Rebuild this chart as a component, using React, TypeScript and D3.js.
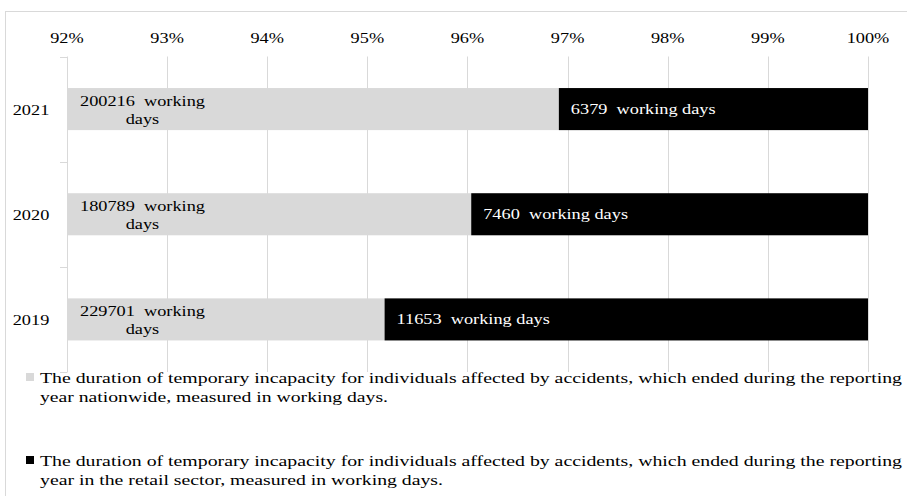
import React, { useEffect, useRef } from "react";
import * as d3 from "d3";

const years = ["2021", "2020", "2019"];
const nationwideDays = [200216, 180789, 229701];
const retailDays = [6379, 7460, 11653];
const tickValues = [0.92, 0.93, 0.94, 0.95, 0.96, 0.97, 0.98, 0.99, 1.0];
const legendLines = [
  [
    "The duration of temporary incapacity for individuals affected by accidents, which ended during the reporting",
    "year nationwide, measured in working days.",
  ],
  [
    "The duration of temporary incapacity for individuals affected by accidents, which ended during the reporting",
    "year in the retail sector, measured in working days.",
  ],
];
const seriesColors = ["#d9d9d9", "#000000"];

const W = 907;
const H = 496;
const FONT = '"Liberation Serif", Tinos, "Times New Roman", "DejaVu Serif", serif';
const SX = 1.18;

export default function App() {
  const ref = useRef<SVGSVGElement | null>(null);

  useEffect(() => {
    const svg = d3.select(ref.current);
    svg.selectAll("*").remove();

    const stretch = (sel: any, target?: number) => {
      sel.each(function (this: SVGTextElement) {
        const len = this.getComputedTextLength();
        const t = target ?? len * SX;
        d3.select(this).attr("textLength", t).attr("lengthAdjust", "spacingAndGlyphs");
      });
    };

    const txt = (parent: any) =>
      parent.append("text").style("font-family", FONT).style("font-size", "15.5px").attr("fill", "#000");

    // frame
    svg
      .append("rect")
      .attr("x", 5.5)
      .attr("y", 11.5)
      .attr("width", 940)
      .attr("height", 540)
      .attr("fill", "none")
      .attr("stroke", "#d9d9d9");

    const x = d3.scaleLinear().domain([0.92, 1.0]).range([67, 868]);
    const y = d3
      .scaleBand<string>()
      .domain(years)
      .range([56.5, 372])
      .paddingInner(0.6)
      .paddingOuter(0.3);

    const plotTop = 56.5;
    const plotBottom = 372;

    // gridlines
    svg
      .append("g")
      .selectAll("line")
      .data(tickValues.slice(1))
      .join("line")
      .attr("x1", (d) => Math.round(x(d)) + 0.5)
      .attr("x2", (d) => Math.round(x(d)) + 0.5)
      .attr("y1", plotTop)
      .attr("y2", plotBottom)
      .attr("stroke", "#d9d9d9");

    // category axis line
    svg
      .append("line")
      .attr("x1", 67.5)
      .attr("x2", 67.5)
      .attr("y1", plotTop)
      .attr("y2", plotBottom)
      .attr("stroke", "#d9d9d9");

    const boundaries = d3.range(years.length + 1).map((i) => plotTop + i * ((plotBottom - plotTop) / years.length));
    svg
      .append("g")
      .selectAll("line")
      .data(boundaries)
      .join("line")
      .attr("x1", 60)
      .attr("x2", 67.5)
      .attr("y1", (d) => Math.round(d) + 0.5)
      .attr("y2", (d) => Math.round(d) + 0.5)
      .attr("stroke", "#d9d9d9");

    // tick labels
    tickValues.forEach((v) => {
      const t = txt(svg)
        .attr("x", x(v))
        .attr("y", 43)
        .attr("text-anchor", "middle")
        .text(d3.format(".0%")(v));
      stretch(t);
    });

    const rows = years.map((yr, i) => {
      const total = nationwideDays[i] + retailDays[i];
      return { yr, nat: nationwideDays[i], ret: retailDays[i], share: nationwideDays[i] / total };
    });

    // bars
    const g = svg.append("g");
    g.selectAll("rect.nat")
      .data(rows)
      .join("rect")
      .attr("class", "nat")
      .attr("x", x(0.92))
      .attr("y", (d) => y(d.yr)!)
      .attr("width", (d) => x(d.share) - x(0.92))
      .attr("height", y.bandwidth())
      .attr("fill", seriesColors[0]);
    g.selectAll("rect.ret")
      .data(rows)
      .join("rect")
      .attr("class", "ret")
      .attr("x", (d) => x(d.share))
      .attr("y", (d) => y(d.yr)!)
      .attr("width", (d) => x(1) - x(d.share))
      .attr("height", y.bandwidth())
      .attr("fill", seriesColors[1]);

    rows.forEach((d) => {
      const cy = y(d.yr)! + y.bandwidth() / 2;
      // category label
      const c = txt(svg)
        .attr("x", 31)
        .attr("y", cy + 5.5)
        .attr("text-anchor", "middle")
        .text(d.yr);
      stretch(c);

      // nationwide label (two lines)
      const cx = x(0.92) + 75.5;
      const t1 = txt(svg)
        .attr("x", cx)
        .attr("y", cy - 3)
        .attr("text-anchor", "middle")
        .style("white-space", "pre")
        .text(`${d.nat}  working`);
      stretch(t1);
      const t2 = txt(svg)
        .attr("x", cx)
        .attr("y", cy + 14.5)
        .attr("text-anchor", "middle")
        .text("days");
      stretch(t2);

      // retail label
      const t3 = txt(svg)
        .attr("x", x(d.share) + 12)
        .attr("y", cy + 5)
        .attr("fill", "#fff")
        .style("white-space", "pre")
        .text(`${d.ret}  working days`);
      stretch(t3);
    });

    // legend
    const legendY = [373, 456];
    const legendTargets = [
      [862, 348],
      [862, 403],
    ];
    legendLines.forEach((lines, i) => {
      svg
        .append("rect")
        .attr("x", 26)
        .attr("y", legendY[i])
        .attr("width", 8)
        .attr("height", 8)
        .attr("fill", seriesColors[i]);
      lines.forEach((ln, j) => {
        const t = txt(svg)
          .attr("x", 40)
          .attr("y", legendY[i] + 10 + j * 18.5)
          .text(ln);
        stretch(t, legendTargets[i][j]);
      });
    });
  }, []);

  return (
    <svg
      ref={ref}
      width={W}
      height={H}
      style={{ position: "absolute", left: 0, top: 0, background: "#fff" }}
    />
  );
}
